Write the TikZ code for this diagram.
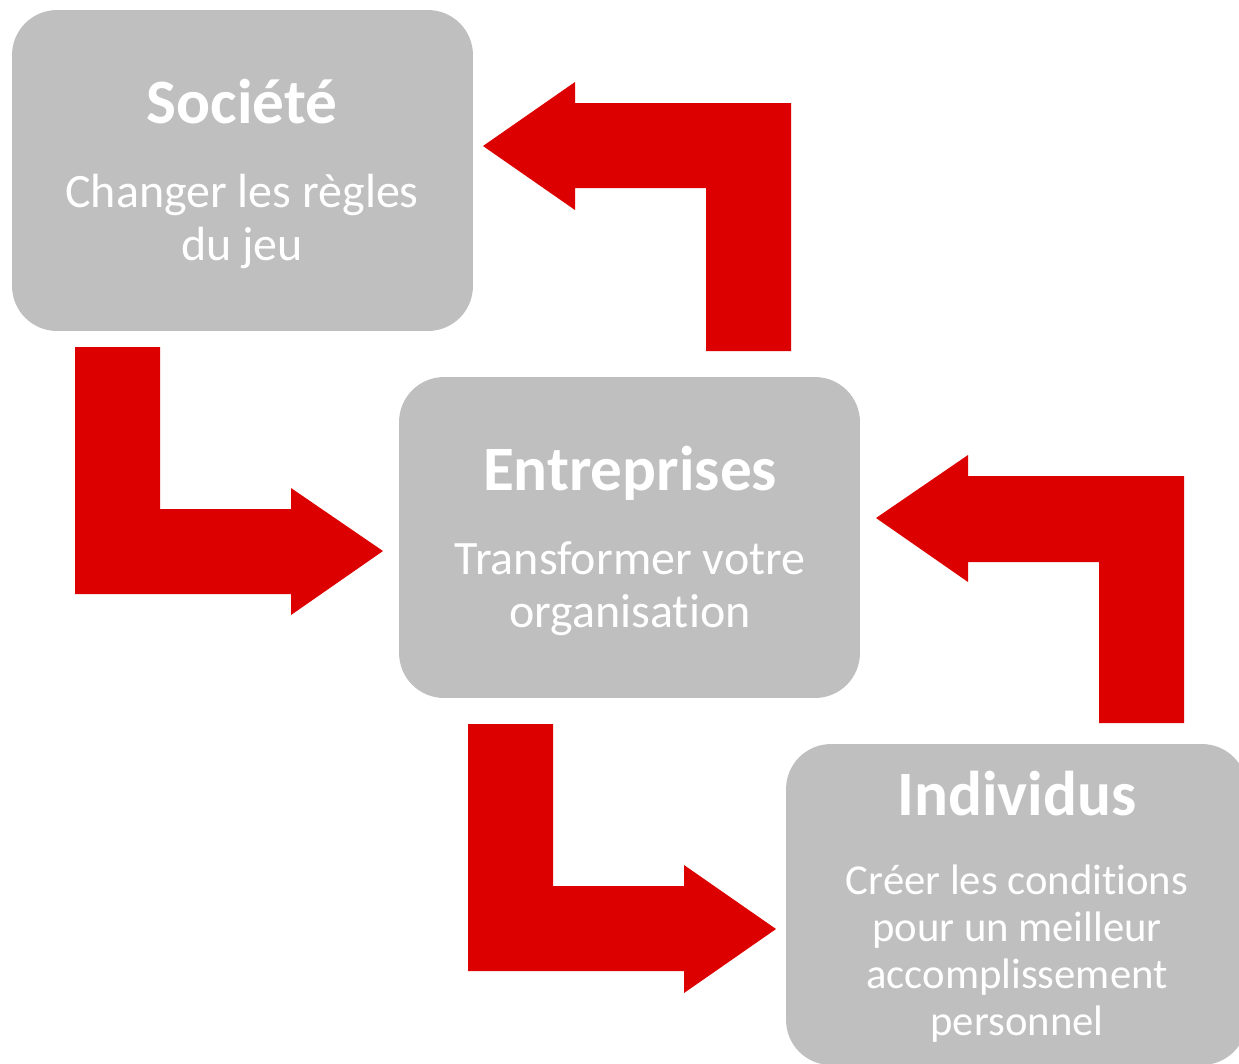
\documentclass[tikz,border=0pt]{standalone}
\usepackage{fontspec}
\setmainfont[Ligatures=NoCommon]{Carlito}
\definecolor{boxgray}{HTML}{BFBFBF}
\definecolor{arrowred}{HTML}{DD0000}
\tikzset{
  panel/.style={fill=boxgray,rounded corners=0.9cm,minimum width=9.22cm,minimum height=6.42cm,inner sep=0pt},
  title/.style={text=white,anchor=base,font=\fontsize{36}{42}\selectfont\bfseries},
  body/.style={text=white,anchor=base,align=center,font=\fontsize{27.3}{30}\selectfont},
  smallbody/.style={body,font=\fontsize{24.3}{26.6}\selectfont},
  bent/.style={fill=arrowred}
}
\begin{document}
\begin{tikzpicture}[x=0.02cm,y=-0.02cm]
\useasboundingbox (0,0) rectangle (1239,1063);
\begin{scope}
\clip (0,0) rectangle (1239,1063);
% boxes
\node[panel] (soc) at (242.5,170.5) {};
\node[panel] (ent) at (629.5,537.5) {};
\node[panel] (ind) at (1016.5,904.5) {};
\end{scope}
% texts (body nodes sit on the baseline of their last line)
\node[title] (soct) at (242,123) {Société};
\node[body] (socb) at (242,260) {Changer les règles\\du jeu};
\node[title] (entt) at (630,490) {Entreprises};
\node[body] (entb) at (630,627) {Transformer votre\\organisation};
\node[title] (indt) at (1017,815) {Individus};
\node[smallbody] (indb) at (1017,1035) {Créer les conditions\\pour un meilleur\\accomplissement\\personnel};
% arrows
\fill[bent] (75,347)--(160,347)--(160,509)--(291,509)--(291,488)--(383,551)--(291,615)--(291,594)--(75,594)--cycle;
\fill[bent] (706,351)--(791,351)--(791,103)--(575,103)--(575,82)--(483,146)--(575,210)--(575,188)--(706,188)--cycle;
\fill[bent] (468,724)--(553,724)--(553,886)--(684,886)--(684,865)--(776,929)--(684,993)--(684,971)--(468,971)--cycle;
\fill[bent] (1099,723)--(1184,723)--(1184,476)--(968,476)--(968,455)--(876,518)--(968,582)--(968,562)--(1099,562)--cycle;
\end{tikzpicture}
\end{document}
